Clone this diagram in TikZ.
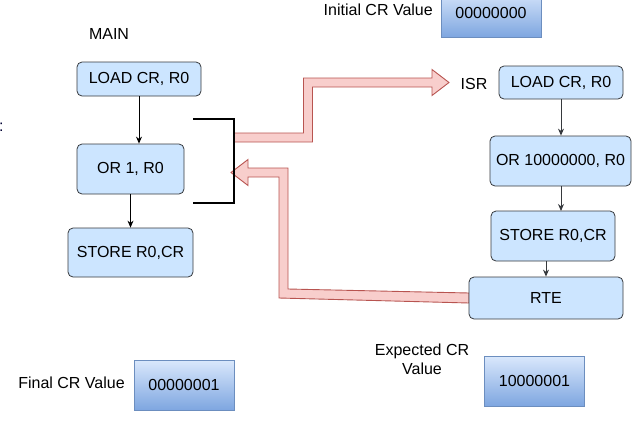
\documentclass[tikz,border=0pt]{standalone}
\usepackage{fontspec}
\setmainfont{Liberation Sans}
\usetikzlibrary{arrows.meta}
\definecolor{boxfill}{HTML}{CCE5FF}
\definecolor{boxdraw}{HTML}{36393D}
\definecolor{gtop}{HTML}{DAE8FC}
\definecolor{gbot}{HTML}{7EA6E0}
\definecolor{gdraw}{HTML}{6C8EBF}
\definecolor{rfill}{HTML}{F8CECC}
\definecolor{rdraw}{HTML}{B85450}
\begin{document}
\begin{tikzpicture}[x=1pt,y=-1pt,font=\fontsize{16}{19}\selectfont,
  instr/.style={draw=boxdraw,fill=boxfill,rounded corners=5pt,line width=0.8pt,inner sep=0pt},
  valbox/.style={draw=gdraw,top color=gtop,bottom color=gbot,line width=0.8pt,inner sep=0pt,minimum width=100pt,minimum height=50pt},
  flow/.style={-{Stealth[length=7pt,width=6pt]},line width=0.9pt},
  isrflow/.style={flow,draw=boxdraw},
  bigarrow/.style={draw=rdraw,fill=rfill,line width=0.9pt,line join=miter},
  bracket/.style={line width=2pt,draw=black},
  lbl/.style={inner sep=0pt}]
\useasboundingbox (0,0) rectangle (640,426);

% big red arrows
\coordinate (brk) at (234,137);
\coordinate (isrin) at (449,82.5);
\draw[bigarrow] (234,142) -- (312.5,142) -- (312.5,87) -- (432,87) -- (432,95.5)
  -- (isrin) -- (432,69.5) -- (432,78) -- (303.5,78) -- (303.5,133) -- (234,133) -- cycle;
\coordinate (ret) at (231,172.5);
\draw[bigarrow] (469,303) -- (279,298) -- (279,177) -- (248,177) -- (248,185.5)
  -- (ret) -- (248,159.5) -- (248,168) -- (288,168) -- (288,289) -- (469,293) -- cycle;

% bracket
\coordinate (b1) at (193,119);
\coordinate (b2) at (234,119);
\coordinate (b3) at (234,203);
\coordinate (b4) at (193,203);
\draw[bracket] (b1) -- (b2) -- (b3) -- (b4);

% main program
\node[lbl,anchor=base] (main) at (109,39.5) {MAIN};
\node[instr,minimum width=124pt,minimum height=34pt] (mload) at (139,79) {LOAD CR, R0};
\node[instr,minimum width=107pt,minimum height=50pt] (mor) at (130.5,169) {OR 1, R0};
\node[instr,minimum width=125pt,minimum height=49pt] (mstore) at (130.5,252.5) {STORE R0,CR};
\draw[flow] (mload.south) -- (mload.south |- mor.north);
\draw[flow] (mor.south) -- (mstore.north);

% ISR
\node[lbl,anchor=base] (isr) at (474,89.5) {ISR};
\node[instr,minimum width=124pt,minimum height=33pt] (iload) at (561,82.5) {LOAD CR, R0};
\node[instr,minimum width=141pt,minimum height=50pt] (ior) at (560.5,161) {OR 10000000, R0};
\node[instr,minimum width=124pt,minimum height=50pt] (istore) at (553,236) {STORE R0,CR};
\node[instr,minimum width=154pt,minimum height=42pt] (rte) at (546,298) {RTE};
\draw[isrflow] (iload.south) -- (iload.south |- ior.north);
\draw[isrflow] (ior.south -| 561,0) -- (561,211);
\draw[isrflow] (istore.south -| rte.north) -- (rte.north);

% values
\node[lbl,anchor=base east] (initl) at (433,15) {Initial CR Value};
\node[valbox,minimum height=48pt] (initv) at (491,13) {00000000};
\node[lbl,anchor=base] (finl) at (71.5,388) {Final CR Value};
\node[valbox] (finv) at (184,385) {00000001};
\node[lbl,align=center,anchor=base] (expl) at (422,374) {Expected CR\\Value};
\node[valbox] (expv) at (534.5,381) {10000001};

% cut-off colon at left edge
\node[lbl,anchor=base west,text=black!80!blue] (colon) at (-1.2,131) {:};
\end{tikzpicture}
\end{document}
